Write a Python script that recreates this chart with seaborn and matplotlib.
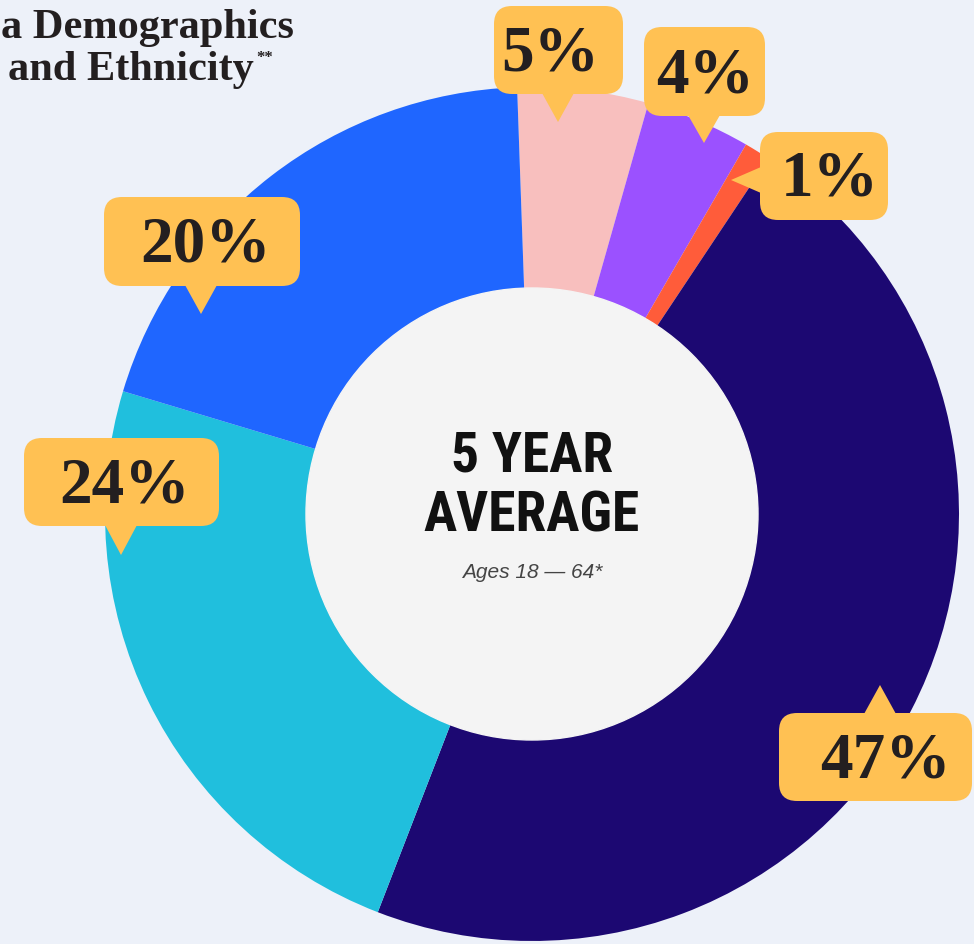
import numpy as np
import pandas as pd
import matplotlib
matplotlib.use("Agg")
import matplotlib.pyplot as plt
import seaborn as sns
from matplotlib import font_manager
from matplotlib.patches import FancyBboxPatch, Polygon, Circle

# share of workforce by race / ethnicity, clockwise from the top
groups = ["Pink", "Purple", "Red", "Navy", "Cyan", "Blue"]
shares = [5, 4, 1, 47, 24, 20]
labels = ["5%", "4%", "1%", "47%", "24%", "20%"]
colors = ["#F8BFBE", "#9B51FF", "#FF5C3A", "#1C0872", "#20BFDD", "#1F66FF"]

table = pd.DataFrame({"group": groups, "share": shares, "label": labels, "color": colors})

sns.set_theme(style="white")
plt.rcParams["font.family"] = ["Liberation Serif", "DejaVu Serif"]

# look for a bold condensed sans for the centre text (weight nearest 700, Roboto first)
cond_font = None
for f in font_manager.fontManager.ttflist:
    narrow = ("Narrow" in f.name or "Condensed" in f.name
              or str(f.stretch) in ("condensed", "semi-condensed", "extra-condensed"))
    if narrow and "Serif" not in f.name and not f.style.startswith(("italic", "oblique")):
        w = f.weight if isinstance(f.weight, int) else 400
        key = (abs(w - 700), 0 if "Roboto" in f.name else 1)
        if cond_font is None or key < cond_font[1]:
            cond_font = (f, key)
if cond_font is not None:
    size = 40 if "Roboto" in cond_font[0].name else 39
    cond_prop = dict(fontproperties=font_manager.FontProperties(fname=cond_font[0].fname, size=size))
else:
    cond_prop = dict(family="Liberation Sans", fontweight="bold", fontsize=37)

W, H = 974, 945
bg = "#EDF1F9"
fig = plt.figure(figsize=(W / 100, H / 100), dpi=100, facecolor=bg)
ax = fig.add_axes([0, 0, 1, 1])
ax.set_facecolor(bg)

def py(y):
    # pixel row (from top) -> data y
    return H - y

cx, cy, R, r_in = 532, py(515), 427, 225
ax.pie(table["share"], colors=table["color"], startangle=92, counterclock=False,
       center=(cx, cy), radius=R, wedgeprops=dict(width=R - r_in, linewidth=0))
ax.add_patch(Circle((cx, cy), r_in + 1, color="#F4F4F4", zorder=3))
ax.set_xlim(0, W)
ax.set_ylim(0, H)
ax.set_aspect("auto")
ax.axis("off")

# speech bubbles: box (x0, y0, x1, y1) in pixels, tail tip, tail side
box_col = "#FFC153"
bubbles = {
    "5%": ((494, 7, 623, 95), (558, 123), "bottom", (550, 55)),
    "4%": ((644, 28, 765, 117), (704, 144), "bottom", (705, 77)),
    "1%": ((760, 133, 888, 221), (731, 181), "left", (830, 180)),
    "47%": ((779, 714, 972, 802), (880, 686), "top", (885, 762)),
    "24%": ((24, 439, 219, 527), (121, 556), "bottom", (125, 487)),
    "20%": ((104, 198, 300, 287), (201, 315), "bottom", (206, 246)),
}
for lab in table["label"]:
    (x0, y0, x1, y1), (tx, ty), side, (lx, ly) = bubbles[lab]
    ax.add_patch(FancyBboxPatch((x0 + 18, py(y1) + 18), (x1 - x0) - 36, (y1 - y0) - 36,
                                boxstyle="round,pad=18", fc=box_col, ec="none", zorder=5))
    if side == "bottom":
        pts = [(tx - 16, py(y1) + 1), (tx + 16, py(y1) + 1), (tx, py(ty))]
    elif side == "top":
        pts = [(tx - 16, py(y0) - 1), (tx + 16, py(y0) - 1), (tx, py(ty))]
    else:
        pts = [(x0 + 1, py(ty - 13)), (x0 + 1, py(ty + 13)), (tx, py(ty))]
    ax.add_patch(Polygon(pts, closed=True, fc=box_col, ec="none", zorder=5))
    ax.text(lx, py(ly), lab, ha="center", va="center", fontsize=47, fontweight="bold",
            color="#231F20", zorder=6)

# title, cut off at the left edge
ax.text(1, py(38), "a Demographics", ha="left", va="baseline", fontsize=30.5,
        fontweight="bold", color="#231F20")
ax.text(8, py(80), "and Ethnicity", ha="left", va="baseline", fontsize=30.5,
        fontweight="bold", color="#231F20")
ax.text(256, py(62), "**", ha="left", va="baseline", fontsize=12,
        fontweight="bold", color="#231F20")

# centre text
ax.text(cx, py(457), "5 YEAR", ha="center", va="center",
        color="#111111", zorder=6, **cond_prop)
ax.text(cx, py(517), "AVERAGE", ha="center", va="center",
        color="#111111", zorder=6, **cond_prop)
ax.text(cx, py(573), "Ages 18 \u2014 64*", ha="center", va="center", fontsize=15,
        style="italic", family=["Liberation Sans", "DejaVu Sans"], color="#444444", zorder=6)

fig.savefig("out.png", dpi=100, facecolor=bg)
